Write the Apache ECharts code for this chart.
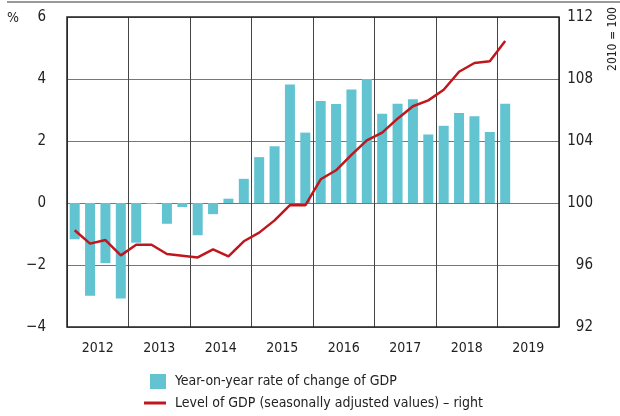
<!DOCTYPE html>
<html>
<head>
<meta charset="utf-8">
<script src="https://cdn.jsdelivr.net/npm/echarts@6/dist/echarts.min.js"></script>
<style>
  html, body { margin: 0; padding: 0; background: #fff; }
  #chart { width: 620px; height: 416px; }
</style>
</head>
<body>
<div id="chart"></div>
<script>
// quarters 2012 Q1 .. 2019 Q4
var years = ['2012', '2013', '2014', '2015', '2016', '2017', '2018', '2019']
var quarters = []
years.forEach(function (y) {
  for (var q = 1; q <= 4; q++) quarters.push(y + ' Q' + q)
})

// year-on-year rate of change of GDP, %
var gdpChange = [
  -1.17, -2.99, -1.94, -3.08,
  -1.28, -0.03, -0.67, -0.13,
  -1.04, -0.36, 0.14, 0.78,
  1.48, 1.83, 3.82, 2.27,
  3.29, 3.19, 3.66, 4.0,
  2.88, 3.2, 3.35, 2.21,
  2.49, 2.9, 2.8, 2.29,
  3.2
]

// level of GDP, seasonally adjusted, 2010 = 100
var gdpLevel = [
  98.24, 97.38, 97.61, 96.62,
  97.31, 97.31, 96.71, 96.6,
  96.49, 97.01, 96.56, 97.53,
  98.09, 98.88, 99.87, 99.85,
  101.53, 102.11, 103.1, 104.04,
  104.54, 105.44, 106.24, 106.62,
  107.31, 108.47, 109.03, 109.14,
  110.45
]

var leftTicks = { min: -4, max: 6, interval: 2 }
var rightTicks = { min: 92, max: 112, interval: 4 }

var barName = 'Year-on-year rate of change of GDP'
var lineName = 'Level of GDP (seasonally adjusted values) \u2013 right'

var font = "'Liberation Sans Narrow', 'DejaVu Sans Condensed', sans-serif"

var chart = echarts.init(document.getElementById('chart'))
chart.setOption({
  animation: false,
  textStyle: { fontFamily: font },
  grid: {
    left: 67,
    right: 61,
    top: 17,
    bottom: 89,
    show: true,
    borderColor: '#222',
    borderWidth: 1.5,
    z: 5
  },
  graphic: [
    {
      type: 'line',
      shape: { x1: 7, y1: 2, x2: 620, y2: 2 },
      style: { stroke: '#999', lineWidth: 2 }
    },
    {
      type: 'text',
      left: 7,
      top: 11,
      style: { text: '%', fontSize: 14, fontFamily: font, fill: '#222' }
    },
    {
      type: 'text',
      x: 613,
      y: 39,
      rotation: Math.PI / 2,
      style: {
        text: '2010 = 100',
        fontSize: 12,
        fontFamily: font,
        fill: '#222',
        align: 'center',
        verticalAlign: 'middle'
      }
    }
  ],
  legend: [
    {
      left: 150,
      top: 374,
      padding: 0,
      itemWidth: 16,
      itemHeight: 15,
      icon: 'rect',
      data: [barName],
      textStyle: { fontSize: 14, color: '#222', fontFamily: font, padding: [0, 0, 0, 4] }
    },
    {
      left: 144,
      top: 396,
      padding: 0,
      itemWidth: 22,
      itemHeight: 3,
      icon: 'rect',
      data: [lineName],
      textStyle: { fontSize: 14, color: '#222', fontFamily: font, padding: [0, 0, 0, 4] }
    }
  ],
  xAxis: [
    {
      type: 'category',
      data: quarters,
      axisLine: { show: false },
      axisTick: { show: false },
      axisLabel: { show: false },
      splitLine: { show: false }
    },
    {
      type: 'category',
      data: years,
      position: 'bottom',
      boundaryGap: true,
      axisLine: { show: false },
      axisTick: { show: false },
      axisLabel: { margin: 14, fontSize: 14, color: '#222', fontFamily: font },
      splitLine: { show: true, lineStyle: { color: '#444', width: 1 } }
    }
  ],
  yAxis: [
    {
      type: 'value',
      min: leftTicks.min,
      max: leftTicks.max,
      interval: leftTicks.interval,
      axisLine: { show: false },
      axisTick: { show: false },
      axisLabel: {
        margin: 21,
        fontSize: 15,
        color: '#222',
        fontFamily: font,
        formatter: function (v) { return v < 0 ? '\u2212' + Math.abs(v) : String(v) }
      },
      splitLine: { show: true, lineStyle: { color: '#777', width: 1 } }
    },
    {
      type: 'value',
      position: 'right',
      min: rightTicks.min,
      max: rightTicks.max,
      interval: rightTicks.interval,
      axisLine: { show: false },
      axisTick: { show: false },
      axisLabel: { margin: 34, align: 'right', fontSize: 15, color: '#222', fontFamily: font },
      splitLine: { show: false }
    }
  ],
  series: [
    {
      name: barName,
      type: 'bar',
      xAxisIndex: 0,
      yAxisIndex: 0,
      data: gdpChange,
      barCategoryGap: '35%',
      itemStyle: { color: '#62C3D1' },
      z: 2
    },
    {
      name: lineName,
      type: 'line',
      xAxisIndex: 0,
      yAxisIndex: 1,
      data: gdpLevel,
      symbol: 'none',
      lineStyle: { color: '#C0161D', width: 2.5 },
      itemStyle: { color: '#C0161D' },
      z: 3
    }
  ]
})
</script>
</body>
</html>
